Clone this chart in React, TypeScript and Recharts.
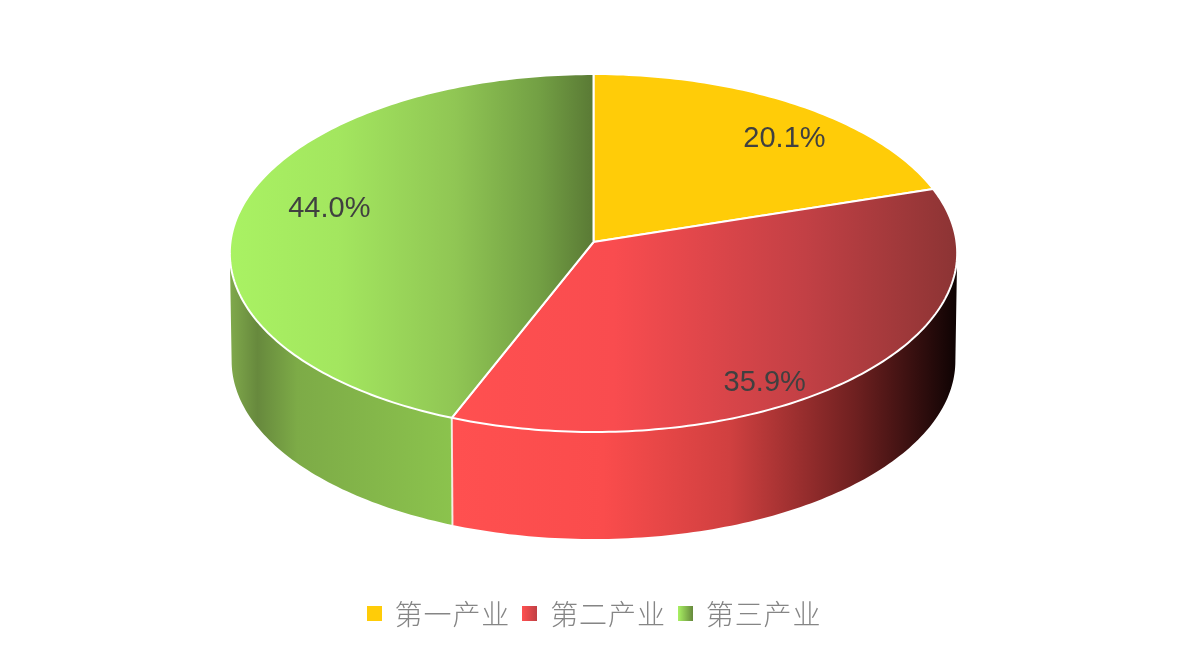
import React from "react";
import { PieChart, Pie, Legend } from "recharts";

const categories = ["第一产业", "第二产业", "第三产业"];
const shares = [20.1, 35.9, 44.0];
const data = categories.map((name, i) => ({ name, value: shares[i] }));

const W = 1188, H = 654, CX = 593.5, CY = 242, RX = 363;
const KP = 0.0615, RY_RATIO = 178.3 / 363, DEPTH = 108, BOTTOM_SCALE = 0.995;
const rad = Math.PI / 180;
const WALL_FROM = 93.5, WALL_TO = 266.5;

const topFill = ["#FFCC08", "url(#redTop)", "url(#greenTop)"];
const wallFill = ["#FFCC08", "url(#redWall)", "url(#greenWall)"];
const legendFill = [
  "#FFCC08",
  "linear-gradient(90deg,#FF5050,#C04045)",
  "linear-gradient(90deg,#A9F163,#66893C)",
];
const labelNudge = [
  [36, -1],
  [-21, 38],
  [1, -10],
];

function project(cx: number, cy: number, rx: number, theta: number, f = 1) {
  const u = Math.sin(theta * rad), v = -Math.cos(theta * rad);
  const s = 1 / (1 - KP * f * v);
  return [cx + rx * f * u * s, cy + rx * RY_RATIO * f * v * s];
}

function arc(cx: number, cy: number, rx: number, a: number, b: number) {
  const n = Math.max(2, Math.ceil(Math.abs(b - a)));
  const pts: string[] = [];
  for (let i = 0; i <= n; i++) {
    const p = project(cx, cy, rx, a + ((b - a) * i) / n);
    pts.push(`${p[0].toFixed(2)} ${p[1].toFixed(2)}`);
  }
  return pts;
}

function Slice(props: any) {
  const { cx, cy, outerRadius, startAngle, endAngle, name } = props;
  const idx = categories.indexOf(name ?? props.payload?.name);
  const a = 90 - startAngle, b = 90 - endAngle;
  const top = `M${cx} ${cy}L${arc(cx, cy, outerRadius, a, b).join("L")}Z`;
  const wa = Math.max(a, WALL_FROM), wb = Math.min(b, WALL_TO);
  const by = cy + DEPTH, brx = outerRadius * BOTTOM_SCALE;
  let wall: string | null = null;
  let seam: string | null = null;
  if (wb > wa) {
    const t = arc(cx, cy, outerRadius, wa, wb);
    const bt = arc(cx, by, brx, wb, wa);
    wall = `M${t.join("L")}L${bt.join("L")}Z`;
    if (wa > WALL_FROM) seam = `M${t[0]}L${bt[bt.length - 1]}`;
  }
  return (
    <g>
      {wall && <path d={wall} fill={wallFill[idx]} stroke="none" />}
      {seam && <path d={seam} stroke="#fff" strokeOpacity={0.8} strokeWidth={2} fill="none" />}
      <path d={top} fill={topFill[idx]} stroke="#fff" strokeWidth={2} strokeLinejoin="round" />
    </g>
  );
}

function SliceLabel(props: any) {
  const { cx, cy, outerRadius, midAngle, index, value } = props;
  const p = project(cx, cy, outerRadius, 90 - midAngle, 0.75);
  const n = labelNudge[index];
  return (
    <text
      x={p[0] + n[0]}
      y={p[1] + n[1]}
      textAnchor="middle"
      dominantBaseline="central"
      fill="#404040"
      fontFamily="'Liberation Sans', Arial, sans-serif"
      fontSize={29}
    >
      {Number(value).toFixed(1)}%
    </text>
  );
}

function LegendRow(props: any) {
  const items = props.payload ?? [];
  return (
    <div style={{ display: "flex", justifyContent: "center", width: W }}>
      {items.map((it: any, i: number) => (
        <div key={it.value} style={{ display: "flex", alignItems: "center", marginRight: i < 2 ? 12 : 0 }}>
          <span style={{ width: 15, height: 15, background: legendFill[categories.indexOf(it.value)], marginRight: 13 }} />
          <span
            style={{
              fontFamily: "'Noto Sans CJK SC', sans-serif",
              fontWeight: 300,
              fontSize: 28,
              lineHeight: "36px",
              letterSpacing: 0.9,
              color: "#858585",
              whiteSpace: "nowrap",
            }}
          >
            {it.value}
          </span>
        </div>
      ))}
    </div>
  );
}

export default function App() {
  return (
    <div style={{ position: "absolute", left: 0, top: 0, width: W, height: H, background: "#fff", filter: "blur(0.6px)" }}>
      <PieChart width={W} height={H} margin={{ top: 0, right: 0, bottom: 0, left: 0 }}>
        <defs>
          <linearGradient id="redTop" gradientUnits="userSpaceOnUse" x1={452} y1={0} x2={957} y2={0}>
            <stop offset="0" stopColor="#FF5050" />
            <stop offset="0.32" stopColor="#F94C4F" />
            <stop offset="0.7" stopColor="#C24045" />
            <stop offset="1" stopColor="#8C3434" />
          </linearGradient>
          <linearGradient id="redWall" gradientUnits="userSpaceOnUse" x1={452} y1={0} x2={957} y2={0}>
            <stop offset="0" stopColor="#FF5050" />
            <stop offset="0.3" stopColor="#FA4C4C" />
            <stop offset="0.55" stopColor="#D04040" />
            <stop offset="0.8" stopColor="#6E2020" />
            <stop offset="1" stopColor="#0E0303" />
          </linearGradient>
          <linearGradient id="greenTop" gradientUnits="userSpaceOnUse" x1={230} y1={0} x2={593} y2={0}>
            <stop offset="0" stopColor="#A9F263" />
            <stop offset="0.3" stopColor="#A3E65F" />
            <stop offset="0.62" stopColor="#90C654" />
            <stop offset="0.85" stopColor="#73A044" />
            <stop offset="1" stopColor="#5A7A35" />
          </linearGradient>
          <linearGradient id="greenWall" gradientUnits="userSpaceOnUse" x1={231} y1={0} x2={452} y2={0}>
            <stop offset="0" stopColor="#7FA84B" />
            <stop offset="0.12" stopColor="#67893D" />
            <stop offset="0.3" stopColor="#7DAB47" />
            <stop offset="1" stopColor="#8BC34D" />
          </linearGradient>
        </defs>
        <Pie
          data={data}
          dataKey="value"
          nameKey="name"
          cx={CX}
          cy={CY}
          innerRadius={0}
          outerRadius={RX}
          startAngle={90}
          endAngle={-270}
          paddingAngle={0}
          stroke="none"
          shape={Slice}
          label={SliceLabel}
          labelLine={false}
          isAnimationActive={false}
        />
        <Legend content={LegendRow} itemSorter={null} wrapperStyle={{ left: 0, top: 595, width: W }} />
      </PieChart>
    </div>
  );
}
